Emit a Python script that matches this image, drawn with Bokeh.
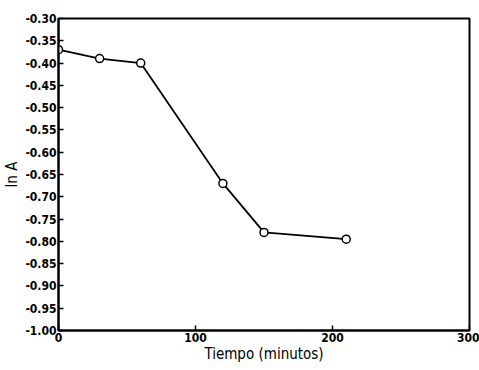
from bokeh.plotting import figure
from bokeh.embed import file_html
from bokeh.resources import INLINE
from bokeh.models import FixedTicker, Range1d, CustomJSTickFormatter

tiempo = [0, 30, 60, 120, 150, 210]
ln_a = [-0.37, -0.39, -0.40, -0.67, -0.78, -0.795]
x_ticks = [0, 100, 200, 300]
y_ticks = [-0.30, -0.35, -0.40, -0.45, -0.50, -0.55, -0.60, -0.65, -0.70,
           -0.75, -0.80, -0.85, -0.90, -0.95, -1.00]

p = figure(width=479, height=370, output_backend="svg", toolbar_location=None,
           x_range=Range1d(0, 300), y_range=Range1d(-1.0, -0.30),
           min_border_left=54, min_border_right=10, min_border_top=18,
           min_border_bottom=40)
p.outline_line_color = "black"
p.outline_line_width = 2
p.xgrid.visible = False
p.ygrid.visible = False

font = "DejaVu Sans Condensed"
for ax in (p.xaxis[0], p.yaxis[0]):
    ax.major_tick_in = 5
    ax.major_tick_out = 0
    ax.minor_tick_in = 0
    ax.minor_tick_out = 0
    ax.axis_line_width = 2
    ax.major_tick_line_width = 1.5
    ax.major_label_text_font = font
    ax.major_label_text_font_size = "12px"
    ax.major_label_text_font_style = "bold"
    ax.major_label_text_color = "black"
    ax.axis_label_text_font = font
    ax.axis_label_text_font_style = "normal"
    ax.axis_label_text_font_size = "15px"
    ax.axis_label_text_color = "black"

p.xaxis.ticker = FixedTicker(ticks=x_ticks)
p.yaxis.ticker = FixedTicker(ticks=y_ticks)
p.yaxis.formatter = CustomJSTickFormatter(code="return tick.toFixed(2);")
p.xaxis.major_label_standoff = 2
p.yaxis.major_label_standoff = 2
p.xaxis.axis_label = "Tiempo (minutos)"
p.yaxis.axis_label = "ln A"
p.xaxis.axis_label_standoff = 0
p.yaxis.axis_label_standoff = 1

p.line(tiempo, ln_a, line_color="black", line_width=1.8)
p.scatter(tiempo, ln_a, marker="circle", size=8, fill_color="white",
          line_color="black", line_width=1.5)

open("out.html", "w").write(file_html(p, INLINE))
